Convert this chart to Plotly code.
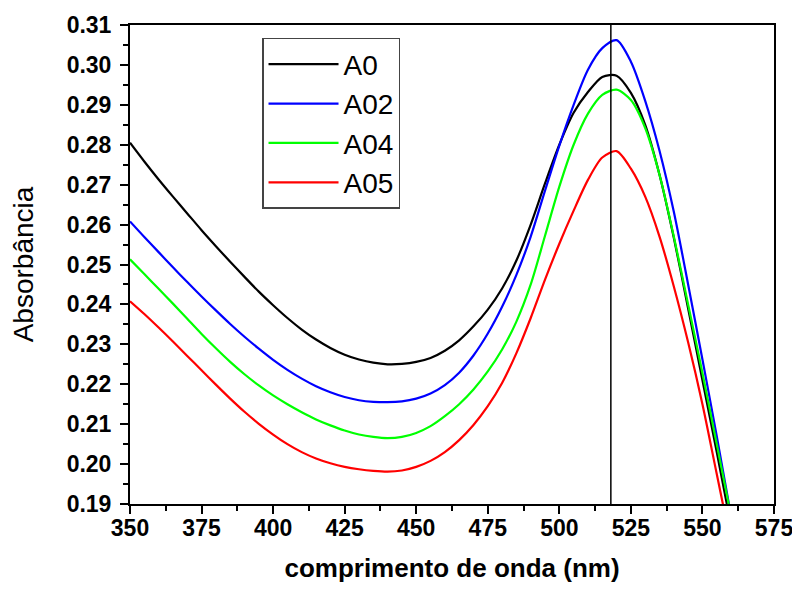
import plotly.graph_objects as go

wavelength = [350, 355, 360, 365, 370, 375, 380, 385, 390, 395, 400, 405, 410, 415, 420,
              425, 430, 435, 440, 445, 450, 455, 460, 465, 470, 475, 480, 485, 490, 495,
              500, 505, 510, 515, 520, 525, 530, 535, 540, 545, 550, 555, 560]

a0 = [0.2805, 0.2758, 0.2713, 0.2670, 0.2628, 0.2586, 0.2546, 0.2507, 0.2469, 0.2432,
      0.2398, 0.2366, 0.2337, 0.2312, 0.2291, 0.2274, 0.2262, 0.2254, 0.2250, 0.2251,
      0.2256, 0.2266, 0.2284, 0.2310, 0.2345, 0.2387, 0.2440, 0.2510, 0.2600, 0.2703,
      0.2800, 0.2880, 0.2932, 0.2970, 0.2973, 0.2930, 0.2850, 0.2725, 0.2567, 0.2390,
      0.2210, 0.2030, 0.1845]

a02 = [0.2608, 0.2569, 0.2531, 0.2493, 0.2456, 0.2420, 0.2385, 0.2351, 0.2319, 0.2289,
       0.2261, 0.2236, 0.2214, 0.2195, 0.2180, 0.2168, 0.2160, 0.2156, 0.2155, 0.2157,
       0.2164, 0.2177, 0.2198, 0.2229, 0.2272, 0.2327, 0.2394, 0.2474, 0.2570, 0.2685,
       0.2798, 0.2900, 0.2988, 0.3042, 0.3062, 0.3008, 0.2910, 0.2785, 0.2632, 0.2450,
       0.2262, 0.2070, 0.1870]

a04 = [0.2513, 0.2476, 0.2439, 0.2402, 0.2364, 0.2326, 0.2290, 0.2256, 0.2225, 0.2197,
       0.2172, 0.2150, 0.2130, 0.2112, 0.2097, 0.2084, 0.2074, 0.2068, 0.2065, 0.2068,
       0.2078, 0.2095, 0.2120, 0.2150, 0.2187, 0.2232, 0.2287, 0.2357, 0.2450, 0.2572,
       0.2695, 0.2800, 0.2878, 0.2925, 0.2938, 0.2912, 0.2842, 0.2725, 0.2570, 0.2400,
       0.2228, 0.2050, 0.1870]

a05 = [0.2408, 0.2376, 0.2342, 0.2307, 0.2271, 0.2235, 0.2199, 0.2164, 0.2131, 0.2101,
       0.2074, 0.2050, 0.2030, 0.2014, 0.2002, 0.1993, 0.1987, 0.1983, 0.1981, 0.1984,
       0.1993, 0.2008, 0.2030, 0.2060, 0.2098, 0.2145, 0.2203, 0.2278, 0.2366, 0.2462,
       0.2552, 0.2635, 0.2712, 0.2768, 0.2784, 0.2740, 0.2670, 0.2570, 0.2445, 0.2305,
       0.2150, 0.1975, 0.1800]

series_names = ["A0", "A02", "A04", "A05"]
series_values = [a0, a02, a04, a05]
series_colors = ["#000000", "#0000FF", "#00FF00", "#FF0000"]

peak_marker = 518

fig = go.Figure()
for name, vals, col in zip(series_names, series_values, series_colors):
    fig.add_trace(go.Scatter(x=wavelength, y=vals, mode="lines", name=name,
                             line=dict(color=col, width=2.2, shape="spline", smoothing=0.8)))

fig.add_shape(type="line", xref="x", yref="paper", x0=peak_marker, x1=peak_marker,
              y0=0, y1=1, line=dict(color="black", width=1.5))

tick_font = dict(family="Liberation Sans, Arial", size=23, color="black", weight="bold")
axis_common = dict(showline=True, linecolor="black", linewidth=2, mirror=True,
                   ticks="outside", ticklen=8, tickwidth=2, tickcolor="black",
                   showgrid=False, zeroline=False, automargin=False,
                   tickfont=tick_font)

fig.update_xaxes(range=[350, 575], dtick=25, tick0=350, ticklabelstandoff=-6,
                 minor=dict(dtick=12.5, ticklen=5, tickwidth=1.5, tickcolor="black", ticks="outside"),
                 title=dict(text="<b>comprimento de onda (nm)</b>",
                            font=dict(family="Liberation Sans, Arial", size=26, color="black"),
                            standoff=19),
                 **axis_common)
fig.update_yaxes(range=[0.19, 0.31], dtick=0.01, tick0=0.19, tickformat=".2f", ticklabelstandoff=4,
                 minor=dict(dtick=0.005, ticklen=5, tickwidth=1.5, tickcolor="black", ticks="outside"),
                 title=dict(text="Absorbância",
                            font=dict(family="Liberation Sans, Arial", size=28, color="black"),
                            standoff=26),
                 **axis_common)

# page body adds an 8 px offset, so margins are shifted to keep the plot area in place
fig.update_layout(
    width=800, height=592,
    margin=dict(l=122, r=34, t=17, b=96),
    paper_bgcolor="white", plot_bgcolor="white",
    showlegend=True,
    legend=dict(x=0.205, y=0.973, xanchor="left", yanchor="top",
                bgcolor="white", bordercolor="#444444", borderwidth=1.5,
                font=dict(family="Liberation Sans, Arial", size=28, color="black"),
                itemwidth=70, tracegroupgap=0),
)

fig.write_html("out.html")
